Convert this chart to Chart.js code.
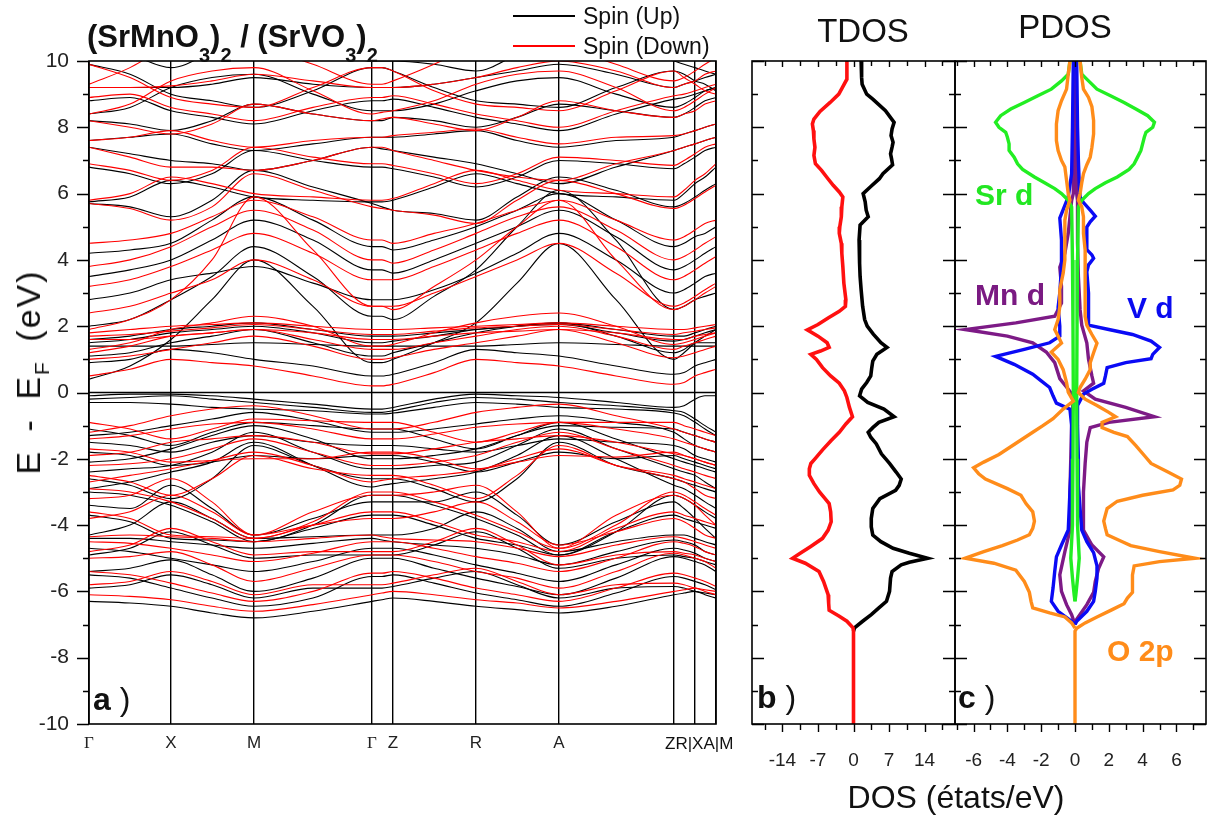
<!DOCTYPE html>
<html>
<head>
<meta charset="utf-8">
<script src="https://cdn.jsdelivr.net/npm/chart.js@4.4.0/dist/chart.umd.min.js"></script>
<style>
  body { margin: 0; background: #fff; width: 1214px; height: 821px; position: relative; overflow: hidden;
         font-family: "Liberation Sans", Arial, sans-serif; }
  .box { position: absolute; }
  .txt { position: absolute; white-space: nowrap; line-height: 1; color: #111; }
  .b { font-weight: bold; }
  .sub { position: relative; top: 15px; font-size: 20px; }
  .key { position: absolute; height: 1.5px; }
</style>
</head>
<body>
<div class="box" style="left:0;top:0;width:730px;height:790px"><canvas id="bands"></canvas></div>
<div class="box" style="left:740px;top:0;width:216px;height:790px"><canvas id="tdos"></canvas></div>
<div class="box" style="left:950px;top:0;width:264px;height:790px"><canvas id="pdos"></canvas></div>

<div class="txt b" style="left:87px;top:21px;font-size:31px">(SrMnO<span class="sub">3</span>)<span class="sub">2</span> / (SrVO<span class="sub">3</span>)<span class="sub">2</span></div>
<div class="key" style="left:513px;top:15px;width:62px;background:#000"></div>
<div class="txt" style="left:583px;top:5px;font-size:23px">Spin (Up)</div>
<div class="key" style="left:513px;top:45px;width:62px;background:#f00"></div>
<div class="txt" style="left:583px;top:35px;font-size:23px">Spin (Down)</div>
<div class="txt" style="left:28px;top:372px;font-size:34px;letter-spacing:2px;word-spacing:7px;transform:translate(-50%,-50%) rotate(-90deg)">E - E<span style="font-size:21px;position:relative;top:9px">F</span> (eV)</div>
<div class="txt" style="left:665px;top:735px;font-size:17px">ZR|XA|M</div>
<div class="txt" style="left:863px;top:14px;font-size:33px;transform:translateX(-50%)">TDOS</div>
<div class="txt" style="left:1065px;top:10px;font-size:33px;transform:translateX(-50%)">PDOS</div>
<div class="txt" style="left:956px;top:781px;font-size:32px;transform:translateX(-50%)">DOS (états/eV)</div>
<div class="txt" style="left:93px;top:683px;font-size:32px"><span class="b">a</span> )</div>
<div class="txt" style="left:757px;top:681px;font-size:32px"><span class="b">b</span> )</div>
<div class="txt" style="left:958px;top:681px;font-size:32px"><span class="b">c</span> )</div>
<div class="txt b" style="left:975px;top:180px;font-size:30px;color:#22e622">Sr d</div>
<div class="txt b" style="left:975px;top:280px;font-size:30px;color:#7a1a82">Mn d</div>
<div class="txt b" style="left:1127px;top:293px;font-size:30px;color:#0a0af0">V d</div>
<div class="txt b" style="left:1107px;top:636px;font-size:30px;color:#ff8c1a">O 2p</div>

<script>
// path coordinate of every sample: Γ . X . M . Γ . Z . R . A . Z . R|X . A|M
const kPath = [0, 41, 82, 123, 165, 224, 283, 293, 304, 345, 387, 428, 470, 527, 585, 595, 606, 616, 627];
const kTicks = [0, 82, 165, 283, 304, 387, 470, 585, 606, 627];
const kLabels = ['Γ', 'X', 'M', 'Γ', 'Z', 'R', 'A', '', '', ''];
const energyTicks = [-10, -8, -6, -4, -2, 0, 2, 4, 6, 8, 10];
const fermiLevel = 0;

// band energies (eV) at each kPath sample, majority spin
const spinUp = [
  [-6.30, -6.35, -6.45, -6.65, -6.80, -6.60, -6.30, -6.25, -6.20, -6.30, -6.45, -6.55, -6.65, -6.45, -6.10, -6.05, -6.00, -6.10, -6.20],
  [-5.90, -5.80, -5.50, -5.80, -6.20, -5.90, -5.90, -5.90, -5.85, -5.60, -5.40, -5.80, -6.20, -5.90, -5.85, -5.90, -6.00, -6.05, -6.10],
  [-5.50, -5.60, -5.90, -6.20, -6.45, -6.20, -5.55, -5.55, -5.50, -5.75, -6.05, -6.25, -6.45, -6.05, -5.55, -5.60, -5.70, -5.80, -5.95],
  [-5.40, -5.30, -5.05, -5.50, -6.00, -5.60, -5.00, -5.00, -5.00, -5.30, -5.60, -5.85, -6.10, -5.60, -4.95, -5.00, -5.10, -5.20, -5.40],
  [-4.90, -4.70, -4.20, -4.60, -5.00, -4.90, -4.90, -4.90, -4.90, -4.60, -4.20, -4.70, -5.30, -5.00, -4.90, -4.95, -5.00, -5.10, -5.20],
  [-4.70, -4.80, -5.00, -5.20, -5.40, -5.10, -4.70, -4.70, -4.70, -4.90, -5.20, -5.45, -5.70, -5.20, -4.70, -4.75, -4.85, -5.00, -5.10],
  [-4.40, -4.40, -4.50, -4.60, -4.70, -4.55, -4.40, -4.45, -4.50, -4.60, -4.70, -4.90, -5.20, -4.80, -4.45, -4.50, -4.60, -4.80, -4.90],
  [-4.30, -4.00, -3.30, -3.80, -4.40, -4.35, -4.30, -4.30, -4.30, -4.10, -3.60, -4.10, -4.80, -4.50, -4.30, -4.30, -4.40, -4.50, -4.60],
  [-3.70, -3.90, -4.40, -4.45, -4.50, -4.10, -3.70, -3.70, -3.70, -4.00, -4.40, -4.60, -4.90, -4.20, -3.70, -3.80, -3.90, -4.00, -4.10],
  [-3.40, -3.50, -2.80, -3.50, -4.30, -3.80, -3.30, -3.30, -3.30, -3.30, -3.00, -3.70, -4.60, -3.90, -3.30, -3.50, -3.80, -4.10, -4.40],
  [-3.00, -3.10, -3.40, -3.90, -4.50, -4.00, -3.10, -3.10, -3.10, -3.40, -3.80, -4.30, -4.90, -4.20, -3.10, -3.20, -3.40, -3.60, -3.80],
  [-2.90, -2.70, -2.40, -2.10, -1.50, -2.20, -2.85, -2.80, -2.75, -2.60, -2.40, -1.90, -1.30, -2.00, -2.80, -2.90, -3.10, -3.30, -3.50],
  [-2.60, -2.80, -3.20, -2.60, -1.60, -2.20, -2.60, -2.60, -2.60, -2.90, -3.30, -2.60, -1.50, -2.20, -2.60, -2.70, -2.80, -2.90, -3.00],
  [-2.40, -2.30, -2.20, -1.80, -1.20, -1.80, -2.30, -2.30, -2.30, -2.20, -2.10, -1.60, -1.10, -1.70, -2.30, -2.40, -2.50, -2.70, -2.90],
  [-2.10, -2.00, -1.70, -1.30, -1.00, -1.40, -2.00, -2.00, -2.00, -1.90, -1.70, -1.30, -0.90, -1.40, -2.00, -2.10, -2.20, -2.30, -2.40],
  [-1.80, -1.90, -2.20, -2.10, -1.90, -2.00, -1.90, -1.90, -1.90, -2.10, -2.40, -2.10, -1.80, -2.00, -1.90, -2.00, -2.10, -2.20, -2.30],
  [-1.50, -1.60, -1.80, -1.50, -1.30, -1.50, -1.60, -1.60, -1.60, -1.70, -1.80, -1.60, -1.40, -1.50, -1.60, -1.70, -1.90, -2.00, -2.10],
  [-1.30, -1.20, -1.00, -0.80, -0.60, -0.85, -1.20, -1.20, -1.20, -1.10, -0.95, -0.80, -0.70, -0.90, -1.20, -1.40, -1.60, -1.70, -1.80],
  [-1.10, -1.30, -1.60, -1.20, -0.90, -1.00, -1.10, -1.10, -1.10, -1.40, -1.70, -1.30, -1.00, -1.05, -1.10, -1.20, -1.30, -1.40, -1.50],
  [-0.30, -0.30, -0.35, -0.45, -0.50, -0.55, -0.65, -0.65, -0.62, -0.45, -0.30, -0.35, -0.45, -0.50, -0.62, -0.70, -0.90, -1.10, -1.30],
  [-0.20, -0.15, -0.10, -0.20, -0.30, -0.45, -0.60, -0.60, -0.55, -0.30, -0.15, -0.20, -0.30, -0.40, -0.55, -0.60, -0.80, -1.00, -1.20],
  [-0.10, -0.05, -0.05, -0.10, -0.20, -0.35, -0.50, -0.50, -0.45, -0.20, -0.05, -0.10, -0.15, -0.30, -0.45, -0.40, -0.20, -0.10, -0.10],
  [0.40, 0.80, 1.60, 2.80, 4.00, 2.60, 0.90, 0.90, 1.00, 1.50, 2.10, 3.30, 4.50, 2.80, 1.00, 1.20, 1.50, 1.70, 1.90],
  [0.90, 1.00, 1.30, 1.20, 1.00, 0.80, 0.50, 0.50, 0.55, 0.90, 1.30, 1.20, 1.10, 0.80, 0.55, 0.60, 0.80, 0.90, 1.00],
  [1.10, 1.20, 1.50, 1.70, 1.90, 1.50, 1.10, 1.10, 1.20, 1.50, 1.80, 2.00, 2.10, 1.70, 1.20, 1.30, 1.50, 1.50, 1.50],
  [1.40, 1.40, 1.40, 1.45, 1.50, 1.45, 1.40, 1.40, 1.40, 1.40, 1.40, 1.45, 1.50, 1.45, 1.40, 1.40, 1.40, 1.40, 1.40],
  [1.50, 1.60, 1.80, 1.90, 2.00, 1.80, 1.50, 1.50, 1.55, 1.70, 1.90, 2.00, 2.05, 1.80, 1.55, 1.60, 1.70, 1.80, 1.90],
  [1.60, 1.70, 1.90, 2.00, 2.10, 1.90, 1.70, 1.70, 1.70, 1.80, 1.90, 2.00, 2.10, 1.90, 1.70, 1.70, 1.80, 1.90, 2.00],
  [2.00, 2.20, 2.80, 3.50, 4.40, 3.50, 2.30, 2.30, 2.20, 2.90, 3.70, 5.00, 6.10, 4.60, 2.50, 2.60, 2.80, 2.90, 3.00],
  [2.80, 3.00, 3.40, 3.60, 3.80, 3.30, 2.80, 2.80, 2.80, 3.10, 3.60, 4.20, 4.80, 4.00, 3.00, 3.10, 3.30, 3.50, 3.60],
  [3.50, 3.70, 4.00, 4.60, 5.20, 4.60, 3.70, 3.70, 3.60, 4.00, 4.50, 5.00, 5.50, 4.70, 3.70, 3.80, 4.00, 4.20, 4.40],
  [4.20, 4.30, 4.50, 5.20, 5.90, 5.20, 4.40, 4.40, 4.30, 4.60, 5.00, 5.50, 6.00, 5.20, 4.40, 4.50, 4.70, 4.80, 5.00],
  [5.70, 5.60, 5.30, 5.80, 6.70, 6.20, 5.70, 5.60, 5.50, 5.40, 5.20, 5.90, 6.50, 6.10, 5.60, 5.70, 5.90, 6.10, 6.30],
  [5.75, 5.90, 6.40, 6.20, 5.90, 5.80, 5.75, 5.75, 5.80, 6.20, 6.60, 6.30, 6.00, 5.90, 5.80, 6.00, 6.30, 6.50, 6.80],
  [6.80, 6.60, 6.30, 6.60, 7.30, 7.00, 6.80, 6.80, 6.75, 6.50, 6.20, 6.50, 7.00, 6.90, 6.75, 6.90, 7.10, 7.30, 7.40],
  [7.40, 7.20, 7.00, 6.90, 6.70, 7.00, 7.40, 7.35, 7.30, 7.10, 6.90, 6.60, 6.30, 6.80, 7.30, 7.40, 7.50, 7.60, 7.70],
  [7.60, 7.70, 7.80, 7.50, 7.30, 7.50, 7.70, 7.70, 7.70, 7.80, 7.90, 7.60, 7.40, 7.60, 7.70, 7.80, 7.90, 8.00, 8.10],
  [8.20, 8.10, 7.90, 8.20, 8.70, 8.40, 8.20, 8.20, 8.30, 8.20, 8.00, 8.30, 8.70, 8.50, 8.30, 8.40, 8.60, 8.80, 8.90],
  [8.40, 8.60, 9.20, 9.50, 9.60, 9.00, 8.50, 8.50, 8.50, 8.70, 9.10, 9.40, 9.50, 9.00, 8.60, 8.70, 8.90, 9.10, 9.20],
  [8.80, 8.90, 8.50, 8.30, 8.10, 8.50, 8.80, 8.80, 8.85, 8.60, 8.30, 8.10, 7.90, 8.40, 8.85, 8.90, 9.00, 9.10, 9.20],
  [9.20, 9.20, 9.20, 9.30, 9.50, 9.30, 9.20, 9.20, 9.20, 9.30, 9.50, 9.70, 9.90, 9.60, 9.20, 9.30, 9.40, 9.50, 9.60],
  [9.90, 9.60, 9.00, 8.80, 8.60, 9.10, 9.80, 9.80, 9.70, 9.20, 8.80, 8.70, 8.60, 9.20, 9.70, 9.60, 9.40, 9.30, 9.10],
  [10.5, 10.2, 9.80, 10.3, 11.0, 10.5, 10.0, 10.0, 10.0, 9.90, 9.70, 10.2, 10.8, 10.4, 10.0, 9.90, 9.80, 9.70, 9.60]
];

// minority spin
const spinDown = [
  [-6.10, -6.15, -6.25, -6.45, -6.60, -6.40, -6.10, -6.05, -6.00, -6.10, -6.25, -6.35, -6.50, -6.30, -6.00, -5.95, -5.90, -6.00, -6.10],
  [-5.80, -5.70, -5.40, -5.70, -6.10, -5.80, -5.80, -5.80, -5.75, -5.50, -5.30, -5.70, -6.10, -5.80, -5.75, -5.80, -5.90, -5.95, -6.00],
  [-5.40, -5.50, -5.75, -6.05, -6.30, -6.00, -5.45, -5.45, -5.40, -5.60, -5.90, -6.10, -6.30, -5.90, -5.45, -5.50, -5.60, -5.70, -5.85],
  [-5.00, -4.95, -4.80, -5.20, -5.70, -5.30, -4.90, -4.90, -4.90, -5.10, -5.40, -5.60, -5.90, -5.40, -4.85, -4.90, -5.00, -5.10, -5.30],
  [-4.80, -4.60, -4.10, -4.50, -4.90, -4.80, -4.80, -4.80, -4.80, -4.50, -4.10, -4.60, -5.20, -4.90, -4.80, -4.85, -4.90, -5.00, -5.10],
  [-4.50, -4.55, -4.70, -4.90, -5.10, -4.85, -4.50, -4.50, -4.50, -4.70, -4.95, -5.15, -5.40, -5.00, -4.50, -4.55, -4.65, -4.80, -4.90],
  [-4.35, -4.30, -4.35, -4.40, -4.50, -4.40, -4.30, -4.35, -4.40, -4.45, -4.50, -4.70, -4.95, -4.60, -4.35, -4.40, -4.50, -4.60, -4.70],
  [-3.80, -3.60, -3.10, -3.60, -4.30, -4.00, -3.80, -3.80, -3.80, -3.60, -3.30, -3.90, -4.60, -4.20, -3.80, -3.90, -4.10, -4.30, -4.40],
  [-3.60, -3.80, -4.30, -4.35, -4.40, -4.00, -3.60, -3.60, -3.60, -3.90, -4.30, -4.50, -4.80, -4.10, -3.60, -3.70, -3.80, -3.90, -4.00],
  [-3.20, -3.10, -2.60, -3.30, -4.30, -3.60, -3.10, -3.10, -3.10, -3.00, -2.80, -3.60, -4.70, -3.70, -3.10, -3.20, -3.40, -3.70, -4.00],
  [-2.90, -3.00, -3.30, -3.80, -4.40, -3.90, -3.00, -3.00, -3.00, -3.30, -3.70, -4.20, -4.70, -4.00, -3.00, -3.10, -3.30, -3.50, -3.70],
  [-2.70, -2.50, -2.30, -2.05, -1.80, -2.20, -2.70, -2.65, -2.60, -2.50, -2.35, -2.00, -1.70, -2.20, -2.60, -2.70, -2.90, -3.10, -3.20],
  [-2.50, -2.70, -3.10, -2.60, -1.90, -2.30, -2.50, -2.50, -2.50, -2.80, -3.20, -2.50, -1.60, -2.20, -2.50, -2.60, -2.70, -2.80, -2.90],
  [-2.20, -2.15, -2.00, -1.70, -1.40, -1.80, -2.20, -2.20, -2.20, -2.10, -1.90, -1.50, -1.20, -1.70, -2.20, -2.30, -2.40, -2.50, -2.60],
  [-1.90, -1.80, -1.50, -1.40, -1.30, -1.50, -1.85, -1.85, -1.85, -1.70, -1.50, -1.40, -1.30, -1.50, -1.85, -1.90, -2.00, -2.10, -2.20],
  [-1.70, -1.80, -2.10, -2.05, -2.00, -2.00, -1.80, -1.80, -1.80, -2.00, -2.30, -2.10, -1.90, -1.95, -1.80, -1.90, -2.00, -2.10, -2.20],
  [-1.40, -1.30, -1.10, -0.95, -0.90, -1.10, -1.40, -1.40, -1.40, -1.25, -1.05, -0.95, -0.90, -1.10, -1.40, -1.50, -1.60, -1.70, -1.80],
  [-1.20, -1.00, -0.70, -0.50, -0.40, -0.70, -1.10, -1.10, -1.10, -0.90, -0.60, -0.45, -0.35, -0.70, -1.10, -1.20, -1.30, -1.40, -1.50],
  [-0.90, -1.10, -1.40, -1.10, -0.80, -0.85, -0.90, -0.90, -0.90, -1.20, -1.50, -1.20, -0.90, -0.90, -0.90, -1.00, -1.10, -1.20, -1.30],
  [0.50, 0.70, 1.00, 0.90, 0.80, 0.50, 0.20, 0.20, 0.25, 0.60, 1.00, 0.90, 0.80, 0.50, 0.25, 0.30, 0.50, 0.60, 0.70],
  [1.00, 1.10, 1.30, 1.50, 1.70, 1.40, 1.00, 1.00, 1.05, 1.30, 1.50, 1.70, 1.90, 1.50, 1.05, 1.10, 1.20, 1.30, 1.40],
  [1.20, 1.40, 1.70, 1.80, 1.90, 1.60, 1.30, 1.30, 1.30, 1.50, 1.70, 1.90, 2.00, 1.70, 1.30, 1.40, 1.50, 1.60, 1.70],
  [1.30, 1.50, 1.90, 2.10, 2.30, 2.00, 1.40, 1.40, 1.45, 1.80, 2.10, 2.30, 2.40, 2.00, 1.45, 1.50, 1.60, 1.70, 1.80],
  [1.60, 1.60, 1.70, 1.80, 1.90, 1.80, 1.60, 1.60, 1.60, 1.70, 1.80, 1.85, 1.90, 1.80, 1.60, 1.60, 1.70, 1.75, 1.80],
  [1.70, 1.75, 1.85, 1.95, 2.05, 1.90, 1.75, 1.75, 1.75, 1.85, 1.95, 2.00, 2.05, 1.90, 1.75, 1.80, 1.85, 1.90, 1.95],
  [1.80, 1.90, 2.00, 2.05, 2.10, 2.00, 1.90, 1.90, 1.90, 1.95, 2.00, 2.05, 2.10, 2.00, 1.90, 1.90, 1.95, 2.00, 2.05],
  [1.90, 2.20, 2.80, 4.00, 5.90, 4.30, 2.60, 2.60, 2.50, 3.20, 4.00, 5.00, 5.80, 4.00, 2.50, 2.60, 2.80, 3.00, 3.20],
  [2.40, 2.60, 3.00, 3.40, 4.00, 3.40, 2.60, 2.60, 2.60, 3.00, 3.50, 4.00, 4.50, 3.60, 2.60, 2.70, 2.90, 3.10, 3.30],
  [3.20, 3.40, 3.80, 4.30, 4.80, 4.20, 3.40, 3.40, 3.40, 3.80, 4.30, 4.80, 5.20, 4.40, 3.40, 3.50, 3.70, 3.90, 4.10],
  [3.80, 4.00, 4.40, 5.00, 5.50, 4.90, 4.00, 4.00, 3.90, 4.30, 4.80, 5.30, 5.60, 4.90, 4.00, 4.10, 4.30, 4.50, 4.70],
  [4.50, 4.60, 4.80, 5.30, 5.80, 5.30, 4.60, 4.60, 4.50, 4.80, 5.10, 5.50, 5.80, 5.20, 4.60, 4.70, 4.90, 5.10, 5.20],
  [5.70, 5.55, 5.20, 5.60, 6.60, 6.10, 5.60, 5.55, 5.50, 5.35, 5.10, 5.80, 6.40, 6.00, 5.55, 5.65, 5.85, 6.05, 6.25],
  [5.80, 6.00, 6.50, 6.30, 6.00, 5.90, 5.80, 5.80, 5.85, 6.30, 6.70, 6.40, 6.10, 6.00, 5.90, 6.10, 6.40, 6.60, 6.90],
  [6.90, 6.70, 6.40, 6.70, 7.40, 7.10, 6.90, 6.90, 6.85, 6.60, 6.30, 6.60, 7.10, 7.00, 6.85, 7.00, 7.20, 7.40, 7.50],
  [7.40, 7.10, 6.80, 6.80, 6.70, 7.00, 7.40, 7.40, 7.30, 7.00, 6.70, 6.50, 6.40, 6.90, 7.30, 7.40, 7.50, 7.60, 7.70],
  [7.60, 7.70, 7.90, 7.60, 7.40, 7.60, 7.70, 7.70, 7.75, 7.85, 7.95, 7.70, 7.50, 7.70, 7.75, 7.80, 7.90, 8.00, 8.10],
  [8.20, 8.00, 7.80, 8.10, 8.70, 8.40, 8.20, 8.25, 8.30, 8.10, 7.90, 8.30, 8.80, 8.50, 8.30, 8.40, 8.50, 8.70, 8.80],
  [8.40, 8.70, 9.40, 9.70, 9.80, 9.10, 8.40, 8.45, 8.50, 8.80, 9.30, 9.60, 9.70, 9.20, 8.50, 8.60, 8.80, 9.00, 9.20],
  [8.90, 9.00, 8.60, 8.40, 8.20, 8.60, 8.90, 8.90, 8.95, 8.70, 8.40, 8.20, 8.00, 8.50, 8.95, 9.00, 9.10, 9.20, 9.30],
  [9.20, 9.20, 9.25, 9.40, 9.60, 9.40, 9.20, 9.20, 9.20, 9.30, 9.50, 9.80, 10.0, 9.70, 9.20, 9.30, 9.40, 9.60, 9.70],
  [9.90, 9.50, 8.90, 8.70, 8.60, 9.20, 9.80, 9.80, 9.70, 9.10, 8.70, 8.60, 8.50, 9.10, 9.70, 9.50, 9.30, 9.10, 9.00],
  [9.30, 9.80, 10.5, 10.8, 10.5, 9.90, 9.30, 9.30, 9.40, 9.90, 10.5, 10.8, 10.5, 9.90, 9.40, 9.50, 9.70, 9.90, 10.1]
];

// total DOS, [energy eV, states/eV]; minority drawn negative
const tdosUp = [
  [10, 1.5], [9.5, 1.6], [9.3, 1.7], [9.0, 2.6], [8.85, 3.8], [8.5, 6.3], [8.15, 8.0], [7.95, 7.6], [7.75, 7.4],
  [7.55, 7.8], [7.4, 7.6], [7.2, 7.3], [7.05, 7.5], [6.87, 7.7], [6.6, 5.8], [6.45, 5.1], [6.2, 3.3], [6.0, 1.9],
  [5.75, 2.3], [5.5, 2.5], [5.3, 2.9], [5.05, 1.3], [4.6, 1.1], [4.2, 1.2], [3.9, 1.2], [3.5, 1.3], [3.1, 1.5],
  [2.6, 1.8], [2.2, 2.2], [2.0, 2.7], [1.76, 3.9], [1.5, 5.4], [1.36, 6.6], [1.15, 4.6], [0.95, 3.8], [0.75, 3.6],
  [0.5, 3.4], [0.3, 2.6], [0.1, 1.6], [-0.1, 1.2], [-0.3, 2.8], [-0.5, 6.0], [-0.73, 8.0], [-0.9, 5.0], [-1.06, 3.8],
  [-1.2, 2.9], [-1.35, 3.4], [-1.55, 4.5], [-1.85, 5.5], [-2.14, 7.1], [-2.4, 8.4], [-2.61, 9.4], [-2.8, 9.0],
  [-2.95, 8.3], [-3.2, 5.2], [-3.5, 3.8], [-3.8, 3.5], [-4.05, 3.5], [-4.3, 3.8], [-4.5, 5.4], [-4.7, 7.8],
  [-4.85, 11.0], [-5.0, 14.6], [-5.12, 11.0], [-5.2, 9.4], [-5.4, 7.6], [-5.6, 7.3], [-6.0, 7.1], [-6.3, 6.5],
  [-6.5, 5.0], [-6.7, 3.5], [-6.9, 1.8], [-7.1, 0.2], [-7.2, 0]
];
const tdosDown = [
  [10, -1.3], [9.45, -1.3], [9.2, -2.2], [9.0, -2.9], [8.75, -4.6], [8.48, -6.6], [8.25, -7.8], [8.1, -8.1],
  [7.9, -7.9], [7.65, -7.8], [7.4, -7.6], [7.15, -7.8], [6.9, -7.5], [6.7, -6.3], [6.5, -5.3], [6.25, -4.0],
  [6.05, -2.8], [5.9, -2.1], [5.6, -2.3], [5.3, -2.4], [5.0, -2.7], [4.8, -2.8], [4.5, -2.4], [4.2, -2.3],
  [3.8, -2.1], [3.3, -1.9], [2.8, -1.5], [2.6, -1.6], [2.45, -2.8], [2.25, -5.0], [2.05, -7.0], [1.89, -9.1],
  [1.7, -7.0], [1.5, -5.2], [1.36, -4.8], [1.25, -6.5], [1.15, -8.4], [1.0, -7.3], [0.75, -6.1], [0.5, -4.5],
  [0.28, -2.8], [0.05, -1.8], [-0.15, -1.3], [-0.45, -0.8], [-0.73, -0.2], [-0.95, -1.5], [-1.2, -2.8],
  [-1.45, -4.4], [-1.73, -6.1], [-2.0, -7.6], [-2.14, -8.4], [-2.3, -8.7], [-2.5, -8.7], [-2.75, -7.8],
  [-3.0, -6.7], [-3.2, -5.6], [-3.35, -4.8], [-3.6, -4.5], [-3.9, -4.4], [-4.15, -5.0], [-4.4, -6.1],
  [-4.65, -8.5], [-4.85, -10.5], [-5.0, -12.0], [-5.15, -9.5], [-5.4, -6.8], [-5.7, -5.9], [-6.1, -5.0],
  [-6.35, -4.9], [-6.57, -4.8], [-6.75, -2.8], [-6.9, -1.3], [-7.1, -0.1], [-7.2, 0], [-10, 0]
];

// projected DOS, [energy eV, states/eV]
const srUp = [
  [10, 0.3], [9.6, 0.4], [9.4, 0.8], [9.15, 1.3], [8.95, 2.1], [8.75, 2.9], [8.55, 3.6], [8.35, 4.3], [8.15, 4.7],
  [8.0, 4.6], [7.85, 4.2], [7.7, 4.1], [7.5, 4.0], [7.3, 3.9], [7.1, 3.7], [6.9, 3.5], [6.73, 3.2], [6.5, 2.5],
  [6.33, 1.8], [6.15, 1.2], [6.0, 0.8], [5.8, 0.4], [5.6, 0.2], [4.0, 0.15], [2.0, 0.12], [0, 0.1], [-2.0, 0.12],
  [-4.0, 0.15], [-5.0, 0.25], [-5.6, 0.15], [-6.1, 0.05], [-6.3, 0]
];
const srDown = [
  [10, -0.3], [9.6, -0.4], [9.4, -0.8], [9.15, -1.4], [8.95, -2.2], [8.75, -3.0], [8.55, -3.8], [8.35, -4.4],
  [8.15, -4.7], [8.0, -4.5], [7.85, -4.1], [7.7, -4.0], [7.5, -3.9], [7.3, -3.9], [7.1, -3.6], [6.9, -3.4],
  [6.73, -3.1], [6.5, -2.4], [6.33, -1.8], [6.15, -1.2], [6.0, -0.8], [5.8, -0.4], [5.6, -0.2], [4.0, -0.15],
  [2.0, -0.12], [0, -0.1], [-2.0, -0.12], [-4.0, -0.15], [-5.0, -0.25], [-5.6, -0.15], [-6.1, -0.05], [-6.3, 0]
];
const mnUp = [
  [10, 0.05], [6.0, 0.1], [5.79, 0.15], [4.5, 0.15], [3.5, 0.2], [2.5, 0.3], [2.03, 0.4], [1.49, 0.7], [1.0, 0.8],
  [0.5, 1.0], [0.28, 1.1], [0.05, 0.5], [-0.2, 1.2], [-0.45, 3.0], [-0.73, 4.7], [-0.9, 2.0], [-1.06, 0.9],
  [-1.5, 0.7], [-2.14, 0.6], [-3.0, 0.5], [-4.15, 0.5], [-4.6, 1.0], [-4.96, 1.7], [-5.3, 1.4], [-5.7, 1.2],
  [-6.03, 1.1], [-6.4, 0.7], [-6.84, 0.1], [-7.0, 0]
];
const mnDown = [
  [10, -0.05], [6.0, -0.1], [5.79, -0.2], [4.8, -0.4], [4.2, -0.6], [3.78, -0.9], [3.2, -0.8], [2.7, -0.8],
  [2.3, -1.2], [2.1, -3.5], [1.9, -6.5], [1.7, -4.0], [1.5, -2.5], [1.22, -1.7], [0.9, -1.2], [0.42, -0.9],
  [0.1, -0.4], [-0.1, -0.1], [-1.0, -0.2], [-2.0, -0.25], [-3.0, -0.3], [-4.15, -0.3], [-4.8, -0.6], [-5.5, -0.9],
  [-6.0, -0.8], [-6.4, -0.5], [-6.7, -0.2], [-7.0, 0]
];
const vUp = [
  [10, 0.1], [8.0, 0.15], [7.0, 0.2], [6.3, 0.25], [5.9, 0.3], [5.73, 0.5], [5.5, 0.9], [5.32, 1.2], [5.15, 0.9],
  [4.99, 0.7], [4.6, 0.7], [4.31, 0.7], [4.15, 1.0], [4.05, 1.1], [3.85, 0.8], [3.64, 0.7], [3.0, 0.8], [2.5, 0.8],
  [2.03, 0.8], [1.9, 2.0], [1.75, 3.4], [1.55, 4.5], [1.36, 5.0], [1.15, 4.6], [1.02, 4.5], [0.9, 3.0], [0.75, 1.9],
  [0.5, 1.8], [0.28, 1.7], [0.1, 1.0], [-0.05, 0.5], [-0.39, 0.15], [-1.0, 0.15], [-2.0, 0.2], [-2.8, 0.2],
  [-3.5, 0.3], [-4.15, 0.4], [-4.5, 0.7], [-4.83, 1.1], [-5.23, 1.3], [-5.6, 1.3], [-6.0, 1.2], [-6.3, 1.1],
  [-6.6, 0.7], [-6.9, 0.1], [-7.0, 0]
];
const vDown = [
  [10, -0.1], [8.0, -0.15], [6.6, -0.2], [5.9, -0.4], [5.52, -0.7], [5.26, -0.9], [4.6, -0.8], [3.78, -0.8],
  [3.0, -0.9], [2.57, -1.0], [2.0, -0.9], [1.7, -0.9], [1.5, -1.5], [1.3, -3.0], [1.09, -4.7], [0.85, -3.6],
  [0.55, -2.5], [0.35, -2.0], [0.15, -1.5], [-0.1, -1.3], [-0.32, -1.1], [-0.5, -0.3], [-1.0, -0.2], [-2.0, -0.2],
  [-3.0, -0.3], [-4.15, -0.4], [-4.6, -0.8], [-4.96, -1.1], [-5.4, -1.2], [-5.9, -1.3], [-6.3, -1.4], [-6.6, -1.0],
  [-6.9, -0.2], [-7.0, 0]
];
const oUp = [
  [10, 0.3], [9.5, 0.4], [9.15, 0.5], [8.9, 0.8], [8.62, 1.0], [8.2, 1.1], [7.8, 1.1], [7.4, 1.0], [7.1, 0.9],
  [6.87, 0.7], [6.6, 0.5], [6.33, 0.4], [6.0, 0.3], [5.8, 0.2], [5.6, 0.4], [5.3, 0.5], [4.8, 0.5], [4.3, 0.6],
  [3.9, 0.6], [3.4, 0.6], [2.8, 0.6], [2.3, 0.6], [2.03, 0.7], [1.75, 1.0], [1.49, 1.3], [1.2, 1.1], [0.9, 0.9],
  [0.69, 0.9], [0.4, 0.6], [0.15, 0.3], [0.0, 0.2], [-0.2, 0.6], [-0.39, 1.3], [-0.6, 2.0], [-0.73, 2.4],
  [-0.9, 1.6], [-1.06, 1.6], [-1.2, 2.3], [-1.33, 3.1], [-1.6, 3.6], [-1.9, 4.1], [-2.14, 4.5], [-2.4, 5.5],
  [-2.61, 6.3], [-2.8, 6.2], [-2.94, 5.8], [-3.1, 4.0], [-3.28, 2.5], [-3.5, 1.9], [-3.88, 1.7], [-4.1, 1.8],
  [-4.29, 1.9], [-4.5, 2.8], [-4.62, 3.3], [-4.8, 5.0], [-5.0, 7.1], [-5.1, 5.0], [-5.23, 3.5], [-5.5, 3.4],
  [-5.8, 3.4], [-6.03, 3.4], [-6.2, 3.1], [-6.37, 2.9], [-6.55, 2.2], [-6.77, 1.3], [-6.95, 0.6], [-7.11, 0.1],
  [-7.2, 0], [-10, 0]
];
const oDown = [
  [10, -0.3], [9.6, -0.4], [9.15, -0.5], [8.8, -0.8], [8.5, -1.0], [8.1, -1.1], [7.6, -1.1], [7.3, -1.0],
  [7.0, -0.8], [6.8, -0.6], [6.4, -0.5], [6.0, -0.4], [5.8, -0.3], [5.5, -0.5], [5.2, -0.6], [4.6, -0.6],
  [4.0, -0.6], [3.6, -0.7], [3.1, -0.9], [2.6, -0.9], [2.2, -1.0], [1.9, -1.2], [1.7, -1.0], [1.49, -0.8],
  [1.22, -1.4], [1.0, -1.0], [0.69, -0.7], [0.3, -0.5], [0.01, -0.4], [-0.26, -0.1], [-0.5, -0.7], [-0.79, -1.3],
  [-1.0, -1.9], [-1.2, -2.5], [-1.5, -3.4], [-1.87, -4.5], [-2.1, -5.4], [-2.27, -6.0], [-2.45, -5.7],
  [-2.61, -5.3], [-2.9, -4.0], [-3.1, -3.2], [-3.35, -2.9], [-3.6, -2.5], [-3.88, -2.4], [-4.1, -2.5],
  [-4.29, -2.7], [-4.45, -3.4], [-4.62, -4.3], [-4.8, -5.4], [-5.0, -6.5], [-5.15, -4.8], [-5.36, -3.5],
  [-5.7, -3.0], [-6.03, -2.7], [-6.3, -2.6], [-6.5, -2.5], [-6.65, -1.5], [-6.77, -0.6], [-6.95, -0.2], [-7.11, 0]
];

Chart.defaults.font.family = '"Liberation Sans", Arial, sans-serif';
Chart.defaults.color = '#222';

// frame box plus minor/major tick marks, drawn through each chart's scales
Chart.register({
  id: 'axisMarks',
  afterDatasetsDraw(chart, args, opts) {
    const { ctx, chartArea: a } = chart;
    ctx.save();
    ctx.strokeStyle = '#000';
    ctx.lineWidth = 1.4;
    ctx.beginPath();
    for (const m of opts.marks || []) {
      const scale = chart.scales[m.axis];
      for (let i = 0; m.from + i * m.step <= m.to + 1e-9; i++) {
        const v = m.from + i * m.step;
        const r = v / m.major;
        const len = Math.abs(r - Math.round(r)) < 1e-6 ? m.long : m.short;
        const p = Math.round(scale.getPixelForValue(v)) + 0.5;
        for (const e of m.edges) {
          if (e === 'left-out') { ctx.moveTo(a.left - len, p); ctx.lineTo(a.left, p); }
          if (e === 'left-in') { ctx.moveTo(a.left, p); ctx.lineTo(a.left + len, p); }
          if (e === 'right-in') { ctx.moveTo(a.right - len, p); ctx.lineTo(a.right, p); }
          if (e === 'bottom-out') { ctx.moveTo(p, a.bottom); ctx.lineTo(p, a.bottom + len); }
          if (e === 'top-in') { ctx.moveTo(p, a.top); ctx.lineTo(p, a.top + len); }
        }
      }
    }
    ctx.stroke();
    ctx.lineWidth = 1.6;
    ctx.strokeRect(a.left, a.top, a.right - a.left, a.bottom - a.top);
    ctx.restore();
  }
});

const yMarks = (edges) => ({ axis: 'y', from: -10, to: 10, step: 1, major: 2, long: 12, short: 6, edges });

// fixed axis height, and no extra room for edge labels so the plot boxes line up
const fixBottom = h => s => { s.height = h; s.paddingLeft = 0; s.paddingRight = 0; };

function baseOptions(padLeft, padRight) {
  return {
    responsive: true,
    maintainAspectRatio: false,
    animation: false,
    events: [],
    layout: { padding: { top: 61, left: padLeft, right: padRight, bottom: 0 } },
    plugins: { legend: { display: false }, tooltip: { enabled: false } },
    elements: { point: { radius: 0 } }
  };
}

// ---- a) band structure ----
const bandSets = [];
spinDown.forEach(b => bandSets.push({
  data: b.map((e, i) => ({ x: kPath[i], y: e })),
  borderColor: '#ff0000', borderWidth: 1.1, cubicInterpolationMode: 'monotone', order: 0
}));
spinUp.forEach(b => bandSets.push({
  data: b.map((e, i) => ({ x: kPath[i], y: e })),
  borderColor: '#000000', borderWidth: 1.1, cubicInterpolationMode: 'monotone', order: 1
}));
bandSets.push({
  data: [{ x: kPath[0], y: fermiLevel }, { x: kPath[kPath.length - 1], y: fermiLevel }],
  borderColor: '#000000', borderWidth: 1.4, order: 2
});

const bandOpts = baseOptions(0, 14);
bandOpts.plugins.axisMarks = { marks: [yMarks(['left-out'])] };
bandOpts.scales = {
  x: {
    type: 'linear', min: 0, max: kPath[kPath.length - 1],
    afterBuildTicks: s => { s.ticks = kTicks.map(v => ({ value: v })); },
    afterFit: fixBottom(66),
    grid: { color: '#000', lineWidth: 1.4, drawTicks: false },
    border: { display: false },
    ticks: {
      autoSkip: false, maxRotation: 0, padding: 9, color: '#222',
      callback: (v, i) => kLabels[i],
      font: c => ({ size: 17, family: c.tick && c.tick.label === 'Γ' ? '"Liberation Serif", serif' : '"Liberation Sans", sans-serif' })
    }
  },
  y: {
    min: -10, max: 10,
    afterBuildTicks: s => { s.ticks = energyTicks.map(v => ({ value: v })); },
    afterFit: s => { s.width = 89; },
    grid: { display: false, drawTicks: false },
    border: { display: false },
    ticks: { padding: 20, font: { size: 21 }, color: '#222' }
  }
};
new Chart(document.getElementById('bands'), { type: 'line', data: { datasets: bandSets }, options: bandOpts });

// ---- b) total DOS ----
const tdosTicks = [-14, -7, 0, 7, 14];
const tdosOpts = baseOptions(12, 1);
tdosOpts.plugins.axisMarks = { marks: [
  yMarks(['left-in', 'right-in']),
  { axis: 'x', from: -17.5, to: 17.5, step: 3.5, major: 7, long: 8, short: 6, edges: ['bottom-out'] },
  { axis: 'x', from: -17.5, to: 17.5, step: 3.5, major: 7, long: 6, short: 5, edges: ['top-in'] }
] };
tdosOpts.scales = {
  x: {
    type: 'linear', min: -20, max: 20,
    afterBuildTicks: s => { s.ticks = tdosTicks.map(v => ({ value: v })); },
    afterFit: fixBottom(66),
    grid: { display: false, drawTicks: false },
    border: { display: false },
    ticks: { autoSkip: false, maxRotation: 0, padding: 25, font: { size: 19 }, color: '#222' }
  },
  y: { display: false, min: -10, max: 10 }
};
new Chart(document.getElementById('tdos'), {
  type: 'line',
  data: { datasets: [
    { data: tdosDown.map(([e, d]) => ({ x: d, y: e })), borderColor: '#ff1010', borderWidth: 3.6, order: 0 },
    { data: tdosUp.map(([e, d]) => ({ x: d, y: e })), borderColor: '#000000', borderWidth: 3.6, order: 1 }
  ] },
  options: tdosOpts
});

// ---- c) projected DOS ----
const pdosTicks = [-6, -4, -2, 0, 2, 4, 6];
const pdosOpts = baseOptions(5, 8);
pdosOpts.plugins.axisMarks = { marks: [
  yMarks(['left-in', 'right-in']),
  { axis: 'x', from: -7, to: 7, step: 1, major: 2, long: 8, short: 6, edges: ['bottom-out'] },
  { axis: 'x', from: -7, to: 7, step: 1, major: 2, long: 6, short: 5, edges: ['top-in'] }
] };
pdosOpts.scales = {
  x: {
    type: 'linear', min: -7.1, max: 7.75,
    afterBuildTicks: s => { s.ticks = pdosTicks.map(v => ({ value: v })); },
    afterFit: fixBottom(66),
    grid: { display: false, drawTicks: false },
    border: { display: false },
    ticks: { autoSkip: false, maxRotation: 0, padding: 25, font: { size: 19 }, color: '#222' }
  },
  y: { display: false, min: -10, max: 10 }
};
const pdosLine = (pts, color, order) => ({
  data: pts.map(([e, d]) => ({ x: d, y: e })), borderColor: color, borderWidth: 3.4, order
});
new Chart(document.getElementById('pdos'), {
  type: 'line',
  data: { datasets: [
    pdosLine(oUp, '#ff8c1a', 0), pdosLine(oDown, '#ff8c1a', 0),
    pdosLine(srUp, '#22ee22', 1), pdosLine(srDown, '#22ee22', 1),
    pdosLine(vUp, '#0a0af5', 2), pdosLine(vDown, '#0a0af5', 2),
    pdosLine(mnUp, '#7d1a86', 3), pdosLine(mnDown, '#7d1a86', 3)
  ] },
  options: pdosOpts
});
</script>
</body>
</html>
